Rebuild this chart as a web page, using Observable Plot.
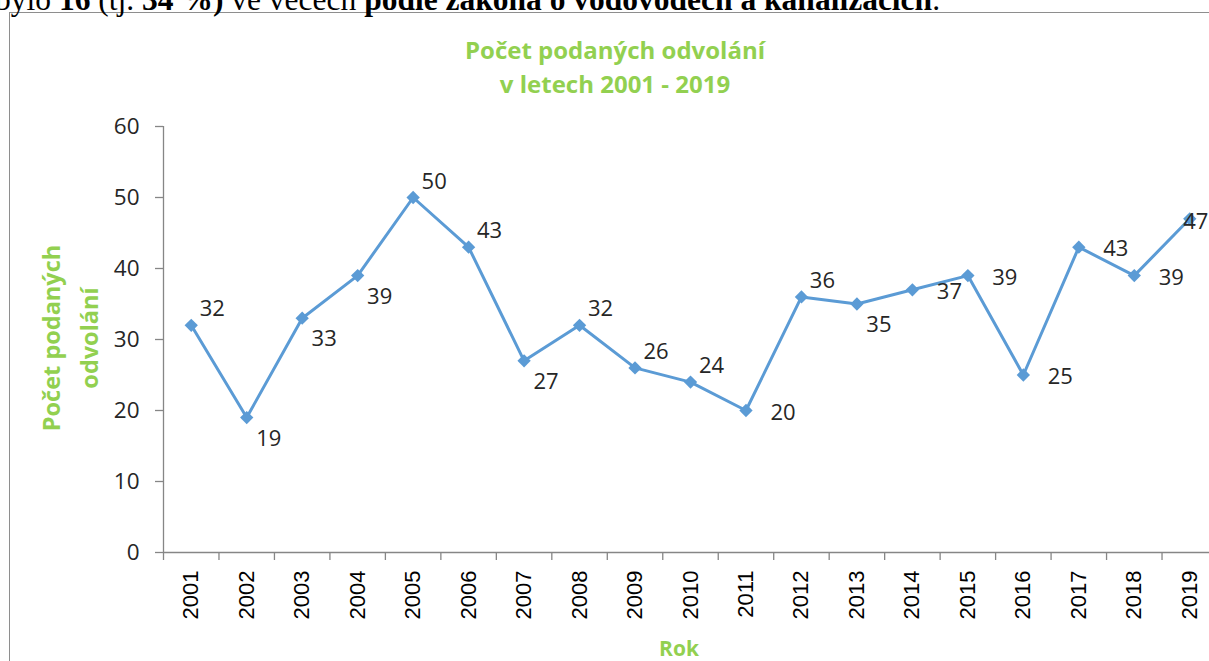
<!DOCTYPE html>
<html>
<head>
<meta charset="utf-8">
<script src="https://cdn.jsdelivr.net/npm/d3@7"></script>
<script src="https://cdn.jsdelivr.net/npm/@observablehq/plot@0.6"></script>
<style>
  html, body { margin: 0; padding: 0; background: #fff; }
  #wrap { position: relative; width: 1209px; height: 661px; overflow: hidden; background: #fff; }
  #lead { position: absolute; left: -5px; top: -16px; line-height: 1; white-space: nowrap; font-family: "Liberation Serif", "Times New Roman", serif; font-size: 31.5px; color: #000; }
  #frame { position: absolute; left: 9px; top: 12px; width: 1400px; height: 800px; border: 1.5px solid #8e8e8e; box-sizing: border-box; }
  #chart { position: absolute; left: 0; top: 0; }
  .title { position: absolute; left: 365px; width: 500px; text-align: center; font-family: "Open Sans", sans-serif; font-weight: 700; font-size: 24px; color: #92D050; white-space: nowrap; }
  #ylab { position: absolute; left: 70px; top: 338px; width: 300px; transform: translate(-50%, -50%) rotate(-90deg); text-align: center; font-family: "Open Sans", sans-serif; font-weight: 700; font-size: 23.5px; line-height: 38px; color: #92D050; white-space: nowrap; }
  #xlab { position: absolute; left: 649px; top: 634px; width: 60px; text-align: center; font-family: "Open Sans", sans-serif; font-weight: 700; font-size: 21px; color: #92D050; }
</style>
</head>
<body>
<div id="wrap">
  <div id="frame"></div>
  <div id="lead">bylo <b>16</b> (tj. <b>34 %)</b> ve věcech <b>podle zákona o vodovodech a kanalizacích</b>.</div>
  <div id="chart"></div>
  <div class="title" style="top:33px">Počet podaných odvolání</div>
  <div class="title" style="top:67px">v letech 2001 - 2019</div>
  <div id="ylab">Počet podaných<br>odvolání</div>
  <div id="xlab">Rok</div>
</div>
<script>
const years = [2001, 2002, 2003, 2004, 2005, 2006, 2007, 2008, 2009, 2010, 2011, 2012, 2013, 2014, 2015, 2016, 2017, 2018, 2019];
const appeals = [32, 19, 33, 39, 50, 43, 27, 32, 26, 24, 20, 36, 35, 37, 39, 25, 43, 39, 47];
const labelPlacement = ["ur", "dr", "dr", "dr", "ur", "ur", "dr", "ur", "ur", "ur", "r", "ur", "dr", "r", "r", "r", "r", "r", "c"];
const yTicks = [0, 10, 20, 30, 40, 50, 60];

const data = years.map((year, i) => ({year, value: appeals[i], place: labelPlacement[i]}));
const boundaries = years.concat([years[years.length - 1] + 1]).map(y => y - 0.5);

const offsets = {
  ur: {dx: 21, dy: -16},
  dr: {dx: 22, dy: 21},
  r: {dx: 37, dy: 2},
  c: {dx: 6, dy: 3}
};

const lineColor = "#5B9BD5";
const axisColor = "#868686";
const textColor = "#262626";
const numFont = "'Open Sans', sans-serif";

const labelMarks = Object.entries(offsets).map(([key, o]) =>
  Plot.text(data.filter(d => d.place === key), {
    x: "year", y: "value", text: d => String(d.value),
    dx: o.dx, dy: o.dy, fontSize: 22, fontFamily: numFont, fill: textColor, textAnchor: "middle"
  })
);

const chart = Plot.plot({
  width: 1209,
  height: 661,
  marginLeft: 163,
  marginRight: 0,
  marginTop: 126,
  marginBottom: 109,
  style: {background: "transparent", overflow: "hidden"},
  x: {type: "linear", domain: [years[0] - 0.5, years[years.length - 1] + 0.5], range: [163, 1217]},
  y: {domain: [0, 60], range: [552, 126]},
  marks: [
    Plot.ruleY([0], {stroke: axisColor, strokeWidth: 1.3}),
    Plot.ruleX([years[0] - 0.5], {y1: 0, y2: 60, stroke: axisColor, strokeWidth: 1.3}),
    Plot.axisY({ticks: yTicks, tickSize: 8, tickPadding: 16, stroke: axisColor, fill: textColor, fontSize: 22.5, fontFamily: numFont, label: null, strokeWidth: 1.3}),
    Plot.axisX({ticks: boundaries, tickSize: 8, tickFormat: () => "", stroke: axisColor, label: null, strokeWidth: 1.3}),
    Plot.axisX({ticks: years, tickSize: 0, tickPadding: 18, tickRotate: -90, tickFormat: d => String(d), fill: "#000", fontSize: 22, fontFamily: "'Liberation Sans', Arial, sans-serif", label: null}),
    Plot.line(data, {x: "year", y: "value", stroke: lineColor, strokeWidth: 3}),
    Plot.dot(data, {x: "year", y: "value", symbol: "diamond2", r: 6, fill: lineColor, stroke: "none"}),
    ...labelMarks
  ]
});
document.getElementById("chart").appendChild(chart);
</script>
</body>
</html>
